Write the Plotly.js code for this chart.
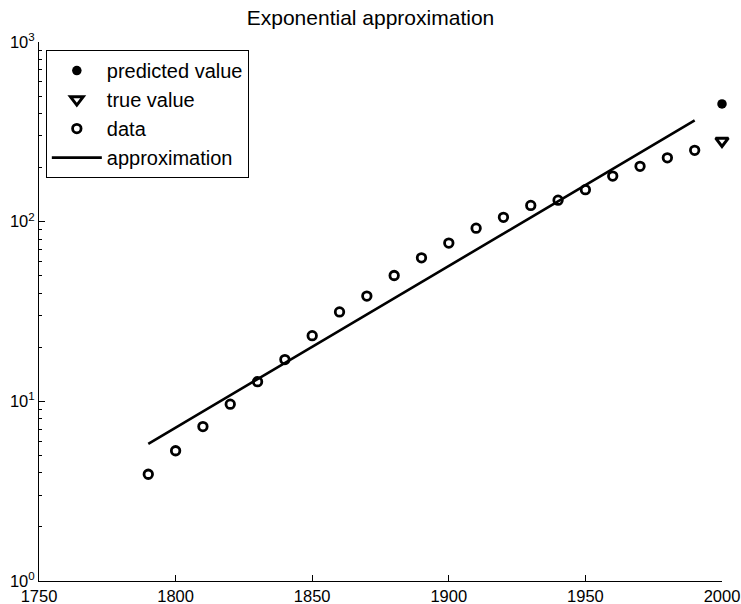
<!DOCTYPE html>
<html>
<head>
<meta charset="utf-8">
<script src="https://cdn.plot.ly/plotly-3.0.1.min.js"></script>
<style>html,body{margin:0;padding:0;background:#fff;}#chart{width:741px;height:604px;}</style>
</head>
<body>
<div id="chart"></div>
<script>
// US census population (millions)
const years = [1790,1800,1810,1820,1830,1840,1850,1860,1870,1880,1890,1900,1910,1920,1930,1940,1950,1960,1970,1980,1990];
const population = [3.929,5.308,7.240,9.638,12.866,17.069,23.192,31.443,38.558,50.156,62.948,75.996,91.972,105.711,123.203,131.669,150.697,179.323,203.212,226.505,249.633];
const approxYears = [1790, 1990];
const approxValues = [5.8, 366];
const predYear = [2000];
const predValue = [452];
const trueYear = [2000];
const trueValue = [281.4];
const yTickVals = [1, 10, 100, 1000];
const yTickText = ['10<sup>0</sup>','10<sup>1</sup>','10<sup>2</sup>','10<sup>3</sup>'];
const xTickVals = [1750,1800,1850,1900,1950,2000];

const traces = [
  {x: predYear, y: predValue, mode:'markers', name:'predicted value', cliponaxis:false,
   marker:{symbol:'circle', size:9.5, color:'black'}},
  {x: trueYear, y: trueValue, mode:'markers', name:'true value', cliponaxis:false,
   marker:{symbol:'triangle-down-open', size:11, color:'black', line:{width:3, color:'black'}}},
  {x: years, y: population, mode:'markers', name:'data',
   marker:{symbol:'circle-open', size:8.5, color:'black', line:{width:2.8, color:'black'}}},
  {x: approxYears, y: approxValues, mode:'lines', name:'approximation',
   line:{color:'black', width:2.6}}
];

const layout = {
  width:741, height:604,
  margin:{l:39, r:19, t:42, b:23},
  paper_bgcolor:'white', plot_bgcolor:'white',
  font:{family:'"Liberation Sans", Arial, sans-serif', color:'black'},
  title:{text:'Exponential approximation', font:{size:21, color:'black'}, x:0.5, xanchor:'center', y:0.970, yanchor:'middle', yref:'container'},
  showlegend:true,
  legend:{x:0.01, y:0.985, xanchor:'left', yanchor:'top', bgcolor:'white', bordercolor:'black', borderwidth:1,
          font:{size:20, color:'black'}, itemwidth:50, tracegroupgap:0, traceorder:'normal'},
  xaxis:{range:[1750,2000], tickmode:'array', tickvals:xTickVals, ticks:'inside', ticklen:6, tickcolor:'black',
         showline:true, linecolor:'black', linewidth:1, showgrid:false, zeroline:false,
         tickfont:{size:16.5, color:'black'}},
  yaxis:{type:'log', range:[0,3], tickmode:'array', tickvals:yTickVals, ticktext:yTickText, ticks:'inside', ticklen:6, tickcolor:'black',
         showline:true, linecolor:'black', linewidth:1, showgrid:false, zeroline:false,
         tickfont:{size:16.5, color:'black'},
         minor:{ticks:'inside', ticklen:3, tickcolor:'black', dtick:'D1', showgrid:false}}
};

Plotly.newPlot('chart', traces, layout, {displayModeBar:false, staticPlot:true});
</script>
</body>
</html>
